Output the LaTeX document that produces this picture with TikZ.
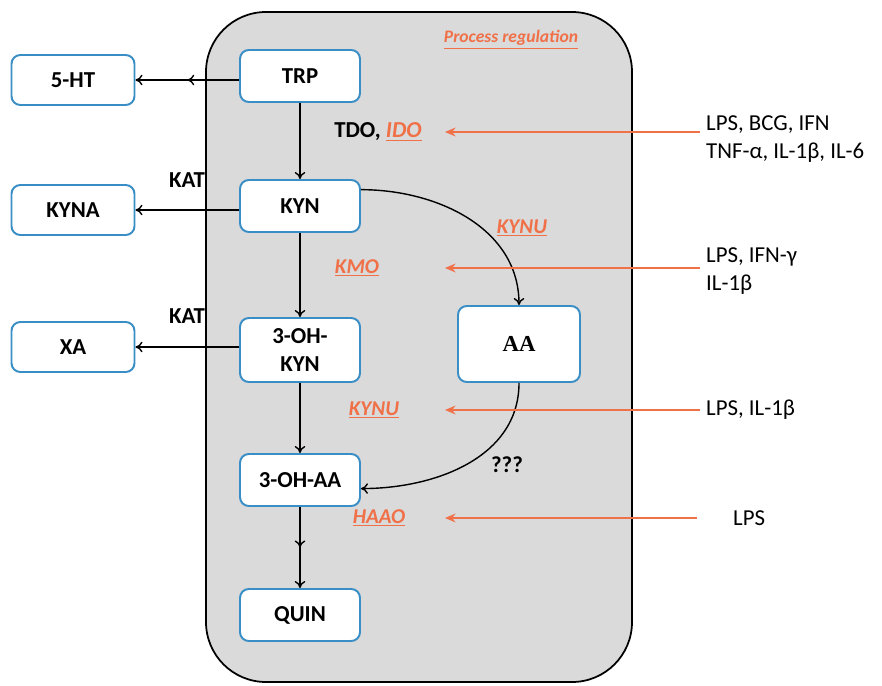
\documentclass[tikz,border=0pt]{standalone}
\usepackage{fontspec}
\setmainfont{Carlito}
\newfontfamily\aafont{Liberation Serif}
\usetikzlibrary{positioning,arrows.meta,decorations.markings}
\definecolor{Edge}{HTML}{3A8EC6}
\definecolor{Enz}{HTML}{F07048}
\definecolor{Panel}{HTML}{DADADA}
\newcommand{\enz}[1]{\underline{#1}}

\begin{document}
\begin{tikzpicture}[x=0.02cm,y=-0.02cm,
    box/.style={draw=Edge,fill=white,line width=1.1pt,rounded corners=5pt,
                minimum height=1.04cm,minimum width=2.4cm,
                font=\bfseries\fontsize{13}{16}\selectfont,align=center},
    sidebox/.style={box,minimum width=2.46cm,minimum height=1.0cm},
    arr/.style={-{To[length=4pt,width=6pt]},line width=0.8pt},
    midarr/.style={postaction={decorate},decoration={markings,
                   mark=at position 0.5 with {\arrow{To[length=4pt,width=6pt]}}}},
    redarr/.style={-{Stealth[length=6pt,width=5pt]},line width=1.2pt,color=Enz},
    lbl/.style={font=\bfseries\fontsize{13}{16}\selectfont},
    enzlbl/.style={font=\bfseries\itshape\fontsize{12}{14}\selectfont,text=Enz},
    cyt/.style={anchor=west,align=left,font=\fontsize{13}{16}\selectfont}
  ]
    \useasboundingbox (0,0) rectangle (882,686);
    % panel
    \draw[fill=Panel,line width=1pt,rounded corners=1.2cm] (206,12) rectangle (632,682);
    \node[enzlbl,font=\bfseries\itshape\fontsize{10}{12}\selectfont] (title) at (511,40) {\enz{Process regulation}};

    % main route
    \node[box] (trp) at (300,76) {TRP};
    \node[box] (kyn) at (300,206) {KYN};
    \node[box,minimum height=1.28cm] (ohkyn) at (300,350) {3-OH-\\KYN};
    \node[box] (ohaa) at (300,480) {3-OH-AA};
    \node[box] (quin) at (300,615) {QUIN};
    \node[box,minimum width=2.44cm,minimum height=1.52cm,
          font=\aafont\bfseries\fontsize{13}{16}\selectfont] (aa) at (519,344) {AA};

    % side products
    \node[sidebox] (ht) at (73,80) {5-HT};
    \node[sidebox] (kyna) at (73,210) {KYNA};
    \node[sidebox] (xa) at (73,347) {XA};

    \draw[arr,midarr] (trp.west |- ht) -- (ht.east);
    \draw[arr] (kyn.west |- kyna) -- (kyna.east);
    \draw[arr] (ohkyn.west |- xa) -- (xa.east);
    \node[lbl] (kat1) at (187,180) {KAT};
    \node[lbl] (kat2) at (187,316) {KAT};

    \draw[arr] (trp) -- (kyn);
    \draw[arr] (kyn) -- (ohkyn);
    \draw[arr] (ohkyn) -- (ohaa);
    \draw[arr,midarr] (ohaa) -- (quin);
    \draw[arr] (kyn.15) to[out=0,in=90] (aa.north);
    \draw[arr] (aa.south) to[out=-90,in=0] (ohaa.-8);
    \node[lbl] (unk) at (507,465) {???};

    % enzymes
    \node[lbl] (tdo) at (378,132) {TDO, {\itshape\color{Enz}\enz{IDO}}};
    \node[enzlbl] (kynu1) at (522,228) {\enz{KYNU}};
    \node[enzlbl] (kmo) at (357,268) {\enz{KMO}};
    \node[enzlbl] (kynu2) at (374,410) {\enz{KYNU}};
    \node[enzlbl] (haao) at (379,518) {\enz{HAAO}};

    % inflammatory signals
    \node[cyt] (cyta) at (700,139) {LPS, BCG, IFN\\TNF-α, IL-1β, IL-6};
    \node[cyt] (cytb) at (700,271) {LPS, IFN-γ\\IL-1β};
    \node[cyt] (cytc) at (700,410) {LPS, IL-1β};
    \node[cyt] (cytd) at (727,518) {LPS};
    \coordinate (ido-in) at (445,132);
    \coordinate (kmo-in) at (445,268);
    \coordinate (kynu-in) at (445,410);
    \coordinate (haao-in) at (445,518);
    \draw[redarr] (cyta.west |- ido-in) -- (ido-in);
    \draw[redarr] (cytb.west |- kmo-in) -- (kmo-in);
    \draw[redarr] (cytc.west |- kynu-in) -- (kynu-in);
    \draw[redarr] ([xshift=-0.6cm]cytd.west) -- (haao-in);
  \end{tikzpicture}
\end{document}
